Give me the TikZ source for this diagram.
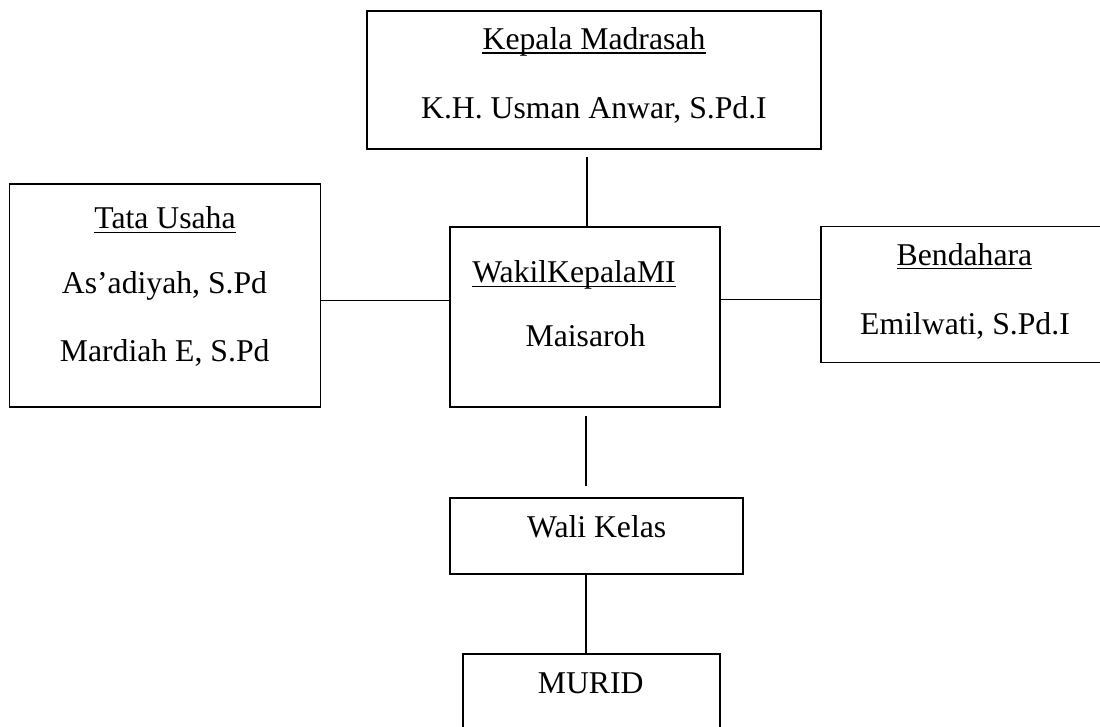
\documentclass[tikz,border=0pt]{standalone}
\usepackage{fontspec}
\setmainfont{Liberation Serif}
\usetikzlibrary{calc}
\tikzset{
  box/.style={draw=black, line width=1.3pt, rectangle, inner sep=0pt},
  txt/.style={anchor=base, inner sep=0pt, font=\fontsize{31.7}{38}\selectfont},
  link/.style={draw=black, line width=1.3pt},
  ul/.style={draw=black, line width=1.3pt}
}
\begin{document}
\begin{tikzpicture}[x=1pt,y=-1pt]
\useasboundingbox (0,0) rectangle (1100,726);
\clip (0,0) rectangle (1100,726);
% boxes
\node[box, minimum width=454pt, minimum height=138pt] (kep) at (594,80) {};
\node[box, minimum width=311pt, minimum height=223pt] (tu) at (165,295.5) {};
\node[box, minimum width=270pt, minimum height=180pt] (wak) at (585,317) {};
\node[box, minimum width=289pt, minimum height=136pt] (ben) at (965.5,294.7) {};
\node[box, minimum width=293pt, minimum height=76pt] (wk) at (596.5,536) {};
\node[box, minimum width=257pt, minimum height=90pt] (mur) at (591.5,699) {};
% texts
\node[txt] (t1) at (594,49.5) {Kepala Madrasah};
\node[txt] (t2) at (594,118.3) {K.H. Usman Anwar, S.Pd.I};
\node[txt] (t3) at (165,228.7) {Tata Usaha};
\node[txt] (t4) at (164.5,293.3) {As’adiyah, S.Pd};
\node[txt] (t5) at (164.7,361.7) {Mardiah E, S.Pd};
\node[txt] (t6) at (574,282.7) {WakilKepalaMI};
\node[txt] (t7) at (585.5,346.7) {Maisaroh};
\node[txt] (t8) at (964.5,265) {Bendahara};
\node[txt] (t9) at (965,334) {Emilwati, S.Pd.I};
\node[txt] (t10) at (596.7,537) {Wali Kelas};
\node[txt] (t11) at (590.7,693) {MURID};
% underlines
\foreach \n in {t1,t3,t6,t8}{
  \draw[ul] ([yshift=-3.5pt]\n.base west) -- ([yshift=-3.5pt]\n.base east);
}
% connectors
\coordinate (c1) at (587,157);
\draw[link] (c1) -- (c1 |- wak.north);
\draw[link] (tu.east |- 0,300.5) -- (wak.west |- 0,300.5);
\draw[link] (wak.east |- 0,299.5) -- (ben.west |- 0,299.5);
\coordinate (c2a) at (586,416);
\coordinate (c2b) at (586,486);
\draw[link] (c2a) -- (c2b);
\draw[link] (wk.south -| 586,0) -- (mur.north -| 586,0);
\end{tikzpicture}
\end{document}
